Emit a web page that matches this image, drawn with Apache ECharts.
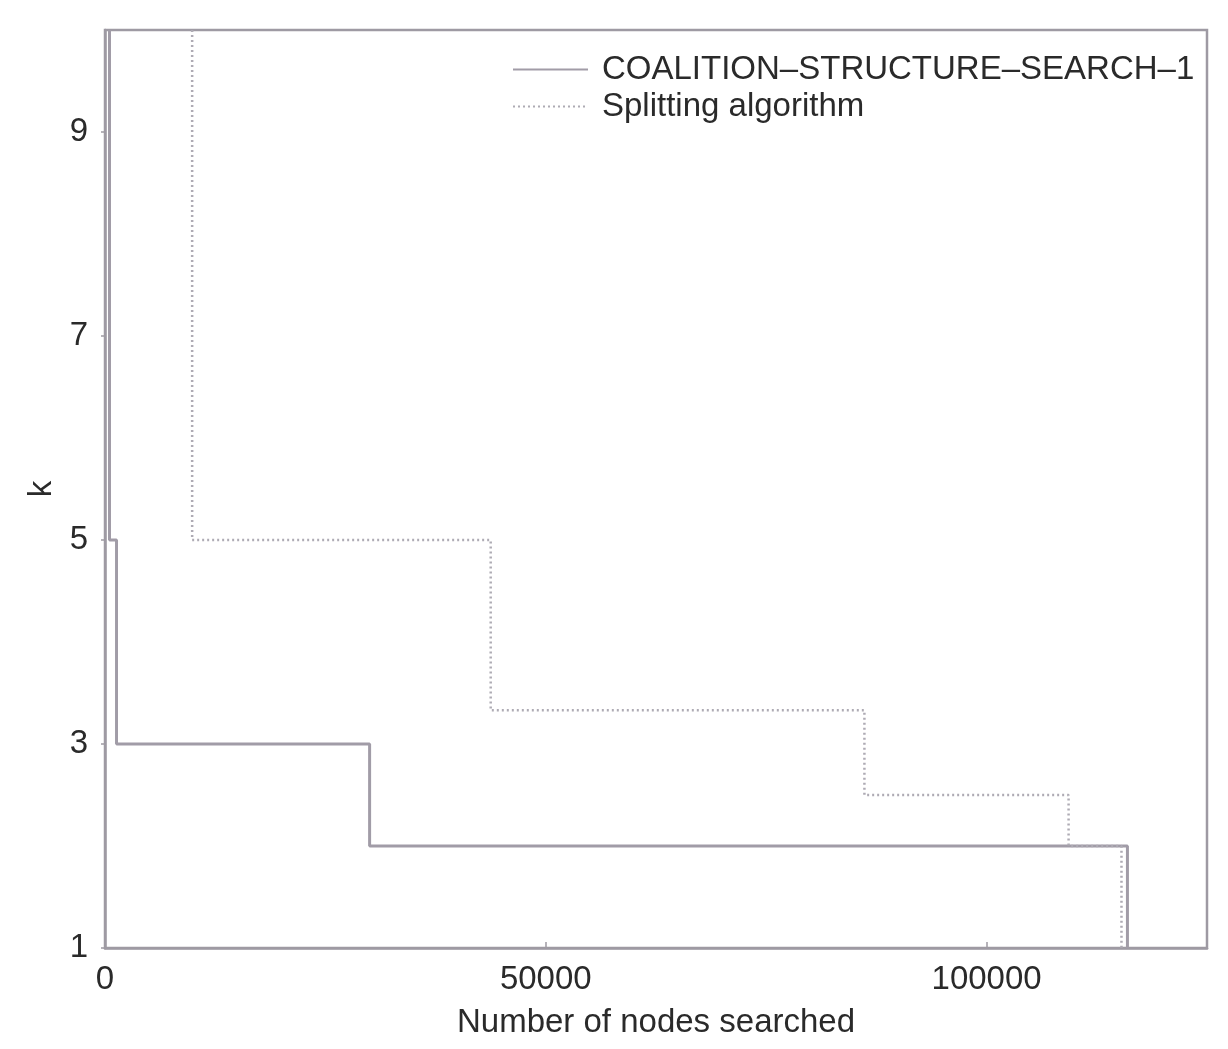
<!DOCTYPE html>
<html>
<head>
<meta charset="utf-8">
<script src="https://cdn.jsdelivr.net/npm/echarts@6/dist/echarts.min.js"></script>
<style>
html,body{margin:0;padding:0;background:#fff;}
#chart{width:1228px;height:1049px;}
</style>
</head>
<body>
<div id="chart"></div>
<script>
// ---- data ----
var seriesNames = ['COALITION–STRUCTURE–SEARCH–1', 'Splitting algorithm'];
// nodes searched at which each bound level k ends (step plot)
var cssNodes = [512, 1308, 30015, 115975, 115975];
var cssK     = [10, 5, 3, 2, 1];
var splitNodes = [9886, 43750, 86140, 109300, 115300, 115300];
var splitK     = [10, 5, 3.33, 2.5, 2, 1];
var xTicks = [0, 50000, 100000];
var yTicks = [1, 3, 5, 7, 9];

function pairs(xs, ys) {
  var out = [];
  for (var i = 0; i < xs.length; i++) out.push([xs[i], ys[i]]);
  return out;
}

var frame = '#9e9aa3';
var textColor = '#2a2a2a';
var font = 'Liberation Sans, Arial, sans-serif';
var fs = 33;

var chart = echarts.init(document.getElementById('chart'), null, {renderer: 'canvas'});
chart.setOption({
  animation: false,
  backgroundColor: '#ffffff',
  grid: {
    left: 105, right: 21, top: 30, bottom: 101,
    show: true, borderColor: frame, borderWidth: 2.5,
    outerBoundsMode: 'none'
  },
  legend: {
    orient: 'vertical',
    left: 507, top: 48,
    itemWidth: 75, itemHeight: 20, itemGap: 4,
    itemStyle: {opacity: 0},
    textStyle: {fontFamily: font, fontSize: fs, color: textColor, padding: [0, 0, 0, 9]},
    data: seriesNames
  },
  xAxis: {
    type: 'value', min: 0, max: 125000,
    name: 'Number of nodes searched', nameLocation: 'middle', nameGap: 58,
    nameTextStyle: {fontFamily: font, fontSize: fs, color: textColor},
    axisLine: {show: true, lineStyle: {color: frame, width: 2.5}},
    axisTick: {show: true, inside: true, length: 6, customValues: xTicks, lineStyle: {color: frame, width: 1.5}},
    axisLabel: {customValues: xTicks, margin: 15, fontFamily: font, fontSize: fs, color: textColor,
      formatter: function (v) { return String(v); }},
    splitLine: {show: false}
  },
  yAxis: {
    type: 'value', min: 1, max: 10,
    name: 'k', nameLocation: 'middle', nameGap: 45, nameRotate: 90,
    nameTextStyle: {fontFamily: font, fontSize: fs, color: textColor},
    axisLine: {show: true, lineStyle: {color: frame, width: 2.5}},
    axisTick: {show: true, inside: false, length: 4, customValues: yTicks, lineStyle: {color: frame, width: 1.5}},
    axisLabel: {customValues: yTicks, margin: 17, fontFamily: font, fontSize: fs, color: textColor,
      formatter: function (v) { return String(v); }},
    splitLine: {show: false}
  },
  series: [
    {
      name: seriesNames[0], type: 'line', step: 'start', symbol: 'none',
      data: pairs(cssNodes, cssK),
      lineStyle: {color: '#a19ca7', width: 3, type: 'solid'},
      itemStyle: {color: '#a19ca7'}
    },
    {
      name: seriesNames[1], type: 'line', step: 'start', symbol: 'none',
      data: pairs(splitNodes, splitK),
      lineStyle: {color: '#aeabb4', width: 2.5, type: [2, 3]},
      itemStyle: {color: '#aeabb4'}
    }
  ]
});
</script>
</body>
</html>
